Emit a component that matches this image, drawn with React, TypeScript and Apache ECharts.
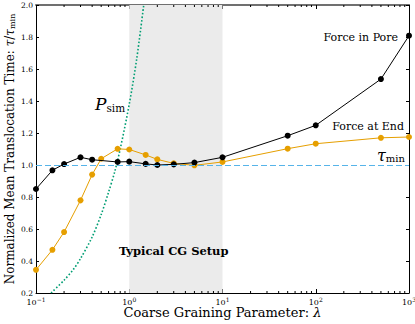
import React, { useEffect, useRef } from "react";
import * as echarts from "echarts";

const poreX = [0.1, 0.15, 0.2, 0.3, 0.4, 0.75, 1, 1.5, 2, 3, 5, 10, 50, 100, 500, 1000];
const poreY = [0.85, 0.967, 1.006, 1.048, 1.033, 1.019, 1.021, 1.007, 1.0, 1.004, 1.015, 1.048, 1.183, 1.248, 1.537, 1.808];

const endX = [0.1, 0.15, 0.2, 0.3, 0.4, 0.5, 0.75, 1, 1.5, 2, 3, 5, 10, 50, 100, 500, 1000];
const endY = [0.345, 0.47, 0.581, 0.779, 0.94, 1.039, 1.101, 1.097, 1.063, 1.035, 1.01, 0.998, 1.019, 1.102, 1.133, 1.17, 1.175];

const simX = [0.145, 0.2, 0.25, 0.3, 0.4, 0.5, 0.6, 0.7, 0.8, 1.0, 1.2, 1.43];
const simY = [0.2, 0.28, 0.345, 0.415, 0.55, 0.69, 0.83, 0.96, 1.1, 1.38, 1.66, 2.0];

const minorTicksX = [0.2, 0.3, 0.4, 0.5, 0.6, 0.7, 0.8, 0.9, 2, 3, 4, 5, 6, 7, 8, 9, 20, 30, 40, 50, 60, 70, 80, 90, 200, 300, 400, 500, 600, 700, 800, 900];

const shadeRange = [1, 10];
const refLevel = 1.0;

const SERIF = "'DejaVu Serif', 'Liberation Serif', serif";

export default function App() {
  const ref = useRef<HTMLDivElement>(null);
  useEffect(() => {
    if (!ref.current) return;
    const chart = echarts.init(ref.current, null, { renderer: "svg" });
    const zip = (xs: number[], ys: number[]) => xs.map((x, i) => [x, ys[i]]);
    const expFmt = (v: number) => {
      const e = Math.round(Math.log10(v));
      return "10{s|" + (e < 0 ? "\u2212" + -e : String(e)) + "}";
    };
    chart.setOption({
      animation: false,
      grid: { left: 36, right: 6, top: 5, bottom: 31, outerBoundsMode: "none", containLabel: false },
      xAxis: [
        {
          type: "log",
          logBase: 10,
          min: 0.1,
          max: 1000,
          splitNumber: 4,
          name: "Coarse Graining Parameter: {i|\u03bb}",
          nameLocation: "middle",
          nameGap: 13,
          nameMoveOverlap: false,
          nameTextStyle: {
            fontFamily: SERIF,
            fontSize: 13,
            color: "#000",
            rich: { i: { fontFamily: SERIF, fontSize: 13, fontStyle: "italic" } },
          },
          axisLine: { lineStyle: { color: "#000", width: 1 } },
          axisTick: { inside: true, length: 4, lineStyle: { color: "#000" } },
          splitLine: { show: false },
          axisLabel: {
            formatter: expFmt,
            fontFamily: SERIF,
            fontSize: 8,
            color: "#000",
            margin: 3,
            rich: { s: { fontFamily: SERIF, fontSize: 6, padding: [0, 0, 6, 0], color: "#000" } },
          },
        },
        {
          type: "log",
          logBase: 10,
          min: 0.1,
          max: 1000,
          splitNumber: 4,
          position: "top",
          axisLine: { lineStyle: { color: "#707070", width: 2 } },
          axisTick: { inside: true, length: 4, lineStyle: { color: "#000" } },
          axisLabel: { show: false },
          splitLine: { show: false },
        },
      ],
      yAxis: [
        {
          type: "value",
          min: 0.2,
          max: 2.0,
          interval: 0.2,
          name: "Normalized Mean Translocation Time: {i|\u03c4}/{i|\u03c4}{sub|min}",
          nameLocation: "middle",
          nameGap: 20,
          nameMoveOverlap: false,
          nameTextStyle: {
            fontFamily: SERIF,
            fontSize: 12,
            color: "#000",
            rich: {
              i: { fontFamily: SERIF, fontSize: 12, fontStyle: "italic" },
              sub: { fontFamily: SERIF, fontSize: 8, padding: [5, 0, 0, 0] },
            },
          },
          axisLine: { show: true, lineStyle: { color: "#000", width: 1 } },
          axisTick: { show: true, inside: true, length: 3, lineStyle: { color: "#000" } },
          splitLine: { show: false },
          axisLabel: {
            formatter: (v: number) => v.toFixed(1),
            fontFamily: SERIF,
            fontSize: 7.5,
            color: "#000",
            margin: 3,
          },
        },
        {
          type: "value",
          min: 0.2,
          max: 2.0,
          interval: 0.2,
          position: "right",
          axisLine: { show: true, lineStyle: { color: "#000", width: 1 } },
          axisTick: { show: true, inside: true, length: 3, lineStyle: { color: "#000" } },
          axisLabel: { show: false },
          splitLine: { show: false },
        },
      ],
      series: [
        {
          type: "line",
          xAxisIndex: 0,
          yAxisIndex: 0,
          data: [],
          z: 1,
          markArea: {
            silent: true,
            itemStyle: { color: "#ebebeb" },
            data: [[{ xAxis: shadeRange[0] }, { xAxis: shadeRange[1] }]],
          },
          markLine: {
            silent: true,
            symbol: "none",
            label: { show: false },
            lineStyle: { color: "#56B4E9", type: [6, 3], width: 1 },
            data: [{ yAxis: refLevel }],
          },
        },
        {
          type: "custom",
          xAxisIndex: 0,
          yAxisIndex: 0,
          data: minorTicksX.map((x) => [x]),
          encode: { x: 0 },
          z: 5,
          renderItem: (params: any, api: any) => {
            const x = api.value(0);
            const b = api.coord([x, 0.2]);
            const t = api.coord([x, 2.0]);
            return {
              type: "group",
              children: [
                { type: "line", shape: { x1: b[0], y1: b[1], x2: b[0], y2: b[1] - 2 }, style: { stroke: "#000", lineWidth: 1 } },
                { type: "line", shape: { x1: t[0], y1: t[1], x2: t[0], y2: t[1] + 2 }, style: { stroke: "#000", lineWidth: 1 } },
              ],
            };
          },
        },
        {
          type: "line",
          name: "P_sim",
          data: zip(simX, simY),
          showSymbol: false,
          smooth: 0.3,
          lineStyle: { color: "#009E73", width: 1.6, type: [1.6, 2] },
          z: 2,
        },
        {
          type: "line",
          name: "Force at End",
          data: zip(endX, endY),
          symbol: "circle",
          symbolSize: 6,
          itemStyle: { color: "#E69F00" },
          lineStyle: { color: "#E69F00", width: 1 },
          z: 3,
        },
        {
          type: "line",
          name: "Force in Pore",
          data: zip(poreX, poreY),
          symbol: "circle",
          symbolSize: 6,
          itemStyle: { color: "#000" },
          lineStyle: { color: "#000", width: 1 },
          z: 4,
        },
      ],
      graphic: [
        {
          type: "text",
          right: 17,
          top: 32,
          z: 100,
          style: { text: "Force in Pore", font: "11px " + SERIF, fill: "#000" },
        },
        {
          type: "text",
          right: 11,
          top: 121,
          z: 100,
          style: { text: "Force at End", font: "11px " + SERIF, fill: "#000" },
        },
        {
          type: "text",
          left: 377,
          top: 147,
          z: 100,
          style: {
            text: "{t|\u03c4}{m|min}",
            rich: {
              t: { font: "italic 16px " + SERIF, fill: "#000" },
              m: { font: "10px " + SERIF, fill: "#000", padding: [6, 0, 0, 0] },
            },
          },
        },
        {
          type: "text",
          left: 95,
          top: 95,
          z: 100,
          style: {
            text: "{t|P}{m|sim}",
            rich: {
              t: { font: "italic 17px " + SERIF, fill: "#000" },
              m: { font: "10.5px " + SERIF, fill: "#000", padding: [8, 0, 0, 0] },
            },
          },
        },
        {
          type: "text",
          left: 119,
          top: 245,
          z: 100,
          style: { text: "Typical CG Setup", font: "bold 11.5px " + SERIF, fill: "#000" },
        },
      ],
    });
    return () => chart.dispose();
  }, []);
  return <div ref={ref} style={{ width: 415, height: 324, position: "absolute", left: 0, top: 0 }} />;
}
